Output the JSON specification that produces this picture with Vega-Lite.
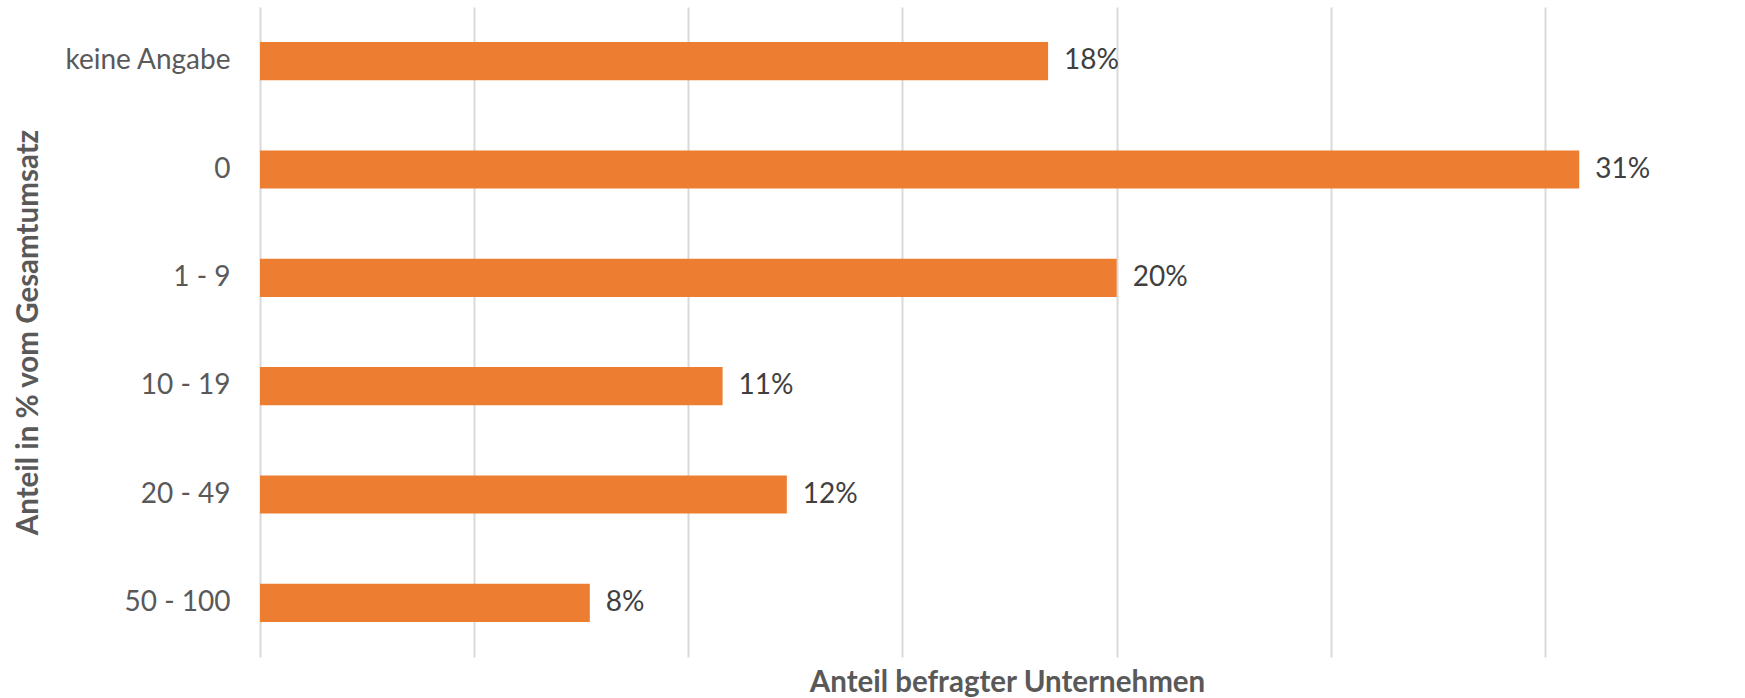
{
  "$schema": "https://vega.github.io/schema/vega-lite/v6.json",
  "autosize": {"type": "none"},
  "padding": {"left": 260, "top": 7, "right": 0, "bottom": 41},
  "width": 1485,
  "height": 650,
  "background": "white",
  "config": {"view": {"stroke": null}, "font": "Lato"},
  "data": {
    "values": [
      {"kategorie": "keine Angabe", "anteil": 0.184},
      {"kategorie": "0", "anteil": 0.308},
      {"kategorie": "1 - 9", "anteil": 0.200},
      {"kategorie": "10 - 19", "anteil": 0.108},
      {"kategorie": "20 - 49", "anteil": 0.123},
      {"kategorie": "50 - 100", "anteil": 0.077}
    ]
  },
  "encoding": {
    "y": {
      "field": "kategorie",
      "type": "nominal",
      "sort": null,
      "scale": {"paddingInner": 0.648, "paddingOuter": 0.324},
      "axis": {
        "title": "Anteil in % vom Gesamtumsatz",
        "titleFont": "Lato",
        "titleFontSize": 29.5,
        "titleFontWeight": "bold",
        "titleColor": "#595959",
        "titleAngle": 270,
        "titleAlign": "center",
        "titleBaseline": "alphabetic",
        "titleX": -223,
        "titleY": 325,
        "labelFont": "Lato",
        "labelFontSize": 28,
        "labelColor": "#595959",
        "labelPadding": 30,
        "ticks": false,
        "domain": false,
        "grid": false
      }
    },
    "x": {
      "field": "anteil",
      "type": "quantitative",
      "scale": {"domain": [0, 0.3467], "nice": false},
      "axis": {
        "values": [0, 0.05, 0.1, 0.15, 0.2, 0.25, 0.3],
        "title": "Anteil befragter Unternehmen",
        "titleFont": "Lato",
        "titleFontSize": 29.5,
        "titleFontWeight": "bold",
        "titleColor": "#595959",
        "titleAlign": "center",
        "titleBaseline": "alphabetic",
        "titleX": 747,
        "titleY": 34,
        "labels": false,
        "ticks": false,
        "domain": false,
        "grid": true,
        "gridColor": "#D9D9D9",
        "gridWidth": 2
      }
    }
  },
  "layer": [
    {"mark": {"type": "bar", "color": "#ED7D31"}},
    {
      "mark": {"type": "text", "align": "left", "baseline": "middle", "dx": 16, "fontSize": 28, "color": "#404040", "font": "Lato"},
      "encoding": {"text": {"field": "anteil", "type": "quantitative", "format": ".0%"}}
    }
  ]
}
